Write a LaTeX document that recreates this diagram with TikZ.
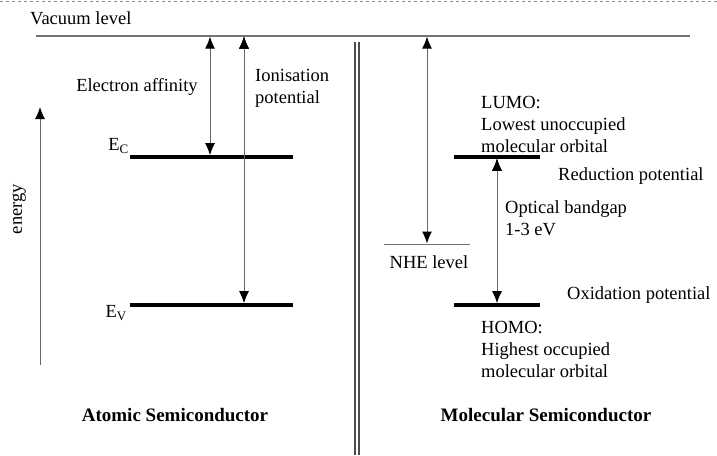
\documentclass[tikz,border=0pt]{standalone}
\usepackage{fontspec}
\setmainfont{Liberation Serif}
\usetikzlibrary{arrows.meta,positioning}

\begin{document}
\begin{tikzpicture}[>={Latex[length=12pt,width=10pt,color=black]}, x=1pt, y=-1pt,
    level/.style={line width=3.6pt},
    vaclevel/.style={draw=black!55, line width=1.3pt},
    gap/.style={<->, draw=black!60, line width=1pt},
    txt/.style={font=\fontsize{18.5}{22}\selectfont, inner sep=0pt, align=left},
    title/.style={font=\fontsize{19}{22}\selectfont\bfseries, inner sep=0pt}]

    \useasboundingbox (0,0) rectangle (717,455);
    \draw[black!45, dashed, line width=0.6pt] (0,1) -- (717,1);

    % vacuum level and the points where the arrows start
    \coordinate (vacL)   at (36,36);
    \coordinate (vacR)   at (690,36);
    \coordinate (vacEA)  at (210,36.6);
    \coordinate (vacIP)  at (244,36.6);
    \coordinate (vacNHE) at (427,36.6);
    \draw[vaclevel] (vacL) -- (vacR);
    \node[txt, anchor=west]            (vac)     at (30,18)       {Vacuum level};

    % atomic semiconductor
    \coordinate (ecL) at (130,157);  \coordinate (ecR) at (293,157);
    \coordinate (evL) at (130,305);  \coordinate (evR) at (293,305);
    \coordinate (ecEA) at (210,155.2); \coordinate (evIP) at (244,303.2);
    \draw[level] (ecL) -- (ecR);
    \draw[level] (evL) -- (evR);

    \node[txt, anchor=east]            (ec)      at (129,146)     {E\textsubscript{C}};
    \node[txt, anchor=east]            (ev)      at (127,313)     {E\textsubscript{V}};
    \node[txt]                         (ea)      at (137,87)      {Electron affinity};
    \node[txt, anchor=west]            (ip)      at (255,88)      {Ionisation\\potential};

    \path[gap]  (vacEA)  edge   (ecEA)
                (vacIP)  edge   (evIP);

    \coordinate (enBot) at (40,365);  \coordinate (enTop) at (40,107);
    \draw[->, draw=black!60, line width=1pt] (enBot) -- (enTop);
    \node[txt, rotate=90]              (energy)  at (19,209)      {energy};

    \node[title]                       (atomic)  at (175,415)     {Atomic Semiconductor};

    % divider
    \coordinate (divA) at (355,42);  \coordinate (divB) at (355,455);
    \draw[black!70, line width=1.3pt] (divA) -- (divB);
    \draw[black!70, line width=1.3pt] ([xshift=4pt]divA) -- ([xshift=4pt]divB);

    % molecular semiconductor
    \coordinate (nheL)   at (384,244);  \coordinate (nheR) at (470,244);
    \coordinate (nheArr) at (427,243.5);
    \draw[vaclevel, line width=1pt] (nheL) -- (nheR);
    \node[txt]                         (nhe)     at (429,262)     {NHE level};

    \coordinate (lumoL) at (454,157);  \coordinate (lumoR) at (540,157);
    \coordinate (homoL) at (454,305);  \coordinate (homoR) at (540,305);
    \coordinate (lumoG) at (497,158.8);  \coordinate (homoG) at (497,303.2);
    \draw[level] (lumoL) -- (lumoR);
    \draw[level] (homoL) -- (homoR);

    \path[gap]  (vacNHE) edge   (nheArr)
                (lumoG)  edge   (homoG);

    \node[txt, anchor=west]            (lumo)    at (481,124)     {LUMO:\\Lowest unoccupied\\molecular orbital};
    \node[txt, anchor=west]            (homo)    at (481,349)     {HOMO:\\Highest occupied\\molecular orbital};
    \node[txt, anchor=west]            (red)     at (558,176)     {Reduction potential};
    \node[txt, anchor=west]            (optgap)  at (505,218)     {Optical bandgap\\1-3 eV};
    \node[txt, anchor=west]            (ox)      at (567,295)     {Oxidation potential};

    \node[title]                       (molec)   at (546,415)     {Molecular Semiconductor};

\end{tikzpicture}
\end{document}
